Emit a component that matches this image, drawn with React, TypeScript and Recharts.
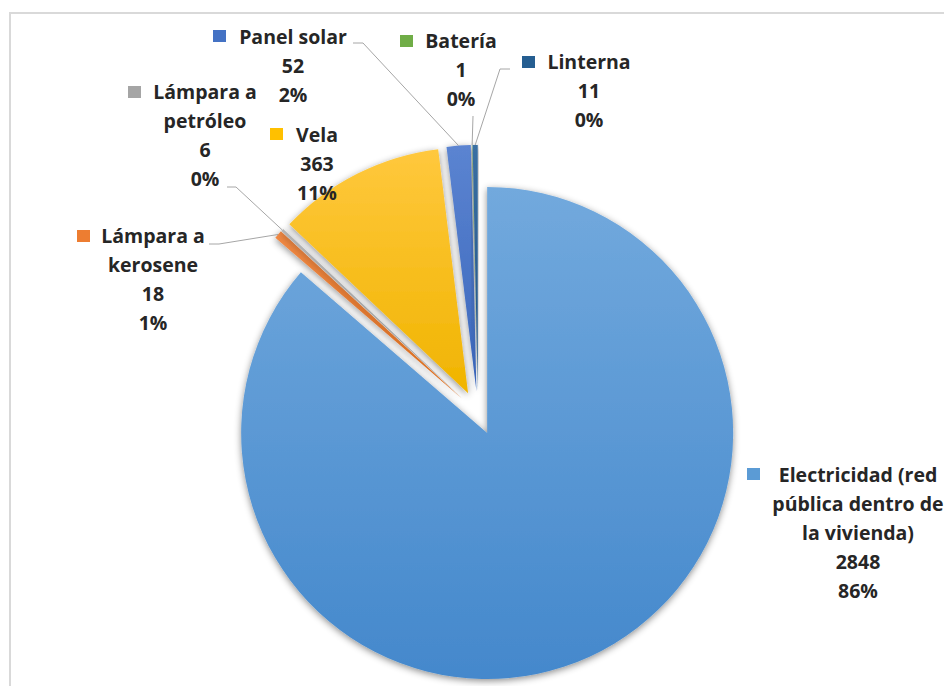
import React from "react";
import { PieChart, Pie, Sector } from "recharts";

// ---- data ----
const categories = [
  "Electricidad (red pública dentro de la vivienda)",
  "Lámpara a kerosene",
  "Lámpara a petróleo",
  "Vela",
  "Panel solar",
  "Batería",
  "Linterna",
];
const values = [2848, 18, 6, 363, 52, 1, 11];

// ---- style ----
const gradTop = ["#72a9dd", "#f28a45", "#b5b5b5", "#ffc83d", "#5b84d1", "#7fbb57", "#3a6fa3"];
const gradBottom = ["#4488cc", "#e0701f", "#959595", "#f0b400", "#3a66bb", "#5f9c3a", "#1f5283"];
const keyColors = ["#5b9bd5", "#ed7d31", "#a5a5a5", "#ffc000", "#4472c4", "#70ad47", "#255e91"];

// label layout (manually placed labels, as in the original)
const labelLayout = [
  { cx: 858, y: 482, sq: [747, 468], wrap: 17, line: null as null | number[][] },
  { cx: 153, y: 243, sq: [77, 230], wrap: 10, line: [[209, 244], [219, 244]] },
  { cx: 205, y: 99, sq: [128, 86], wrap: 10, line: [[227, 187], [236, 187]] },
  { cx: 317, y: 142, sq: [270, 128], wrap: 10, line: null },
  { cx: 293, y: 44, sq: [213, 30], wrap: 12, line: [[353, 43], [363, 43]] },
  { cx: 461, y: 48, sq: [400, 35], wrap: 10, line: [[473, 116], [473, 116]] },
  { cx: 589, y: 69, sq: [522, 56], wrap: 10, line: [[510, 69], [500, 69]] },
];

const data = categories.map((name, i) => ({ name, value: values[i] }));

const RAD = Math.PI / 180;
const EXPLODE = 22;
const LINE_H = 29;

function wrapText(s: string, max: number): string[] {
  const words = s.split(" ");
  const lines: string[] = [];
  let cur = "";
  for (const w of words) {
    const next = cur ? cur + " " + w : w;
    if (next.length > max && cur) {
      lines.push(cur);
      cur = w;
    } else {
      cur = next;
    }
  }
  if (cur) lines.push(cur);
  return lines;
}

const renderSlice = (props: any) => {
  const { cx, cy, outerRadius, startAngle, endAngle, midAngle, index, percent, value, name } = props;
  const dx = EXPLODE * Math.cos(-midAngle * RAD);
  const dy = EXPLODE * Math.sin(-midAngle * RAD);
  const ax = cx + dx;
  const ay = cy + dy;
  const ox = ax + outerRadius * Math.cos(-midAngle * RAD);
  const oy = ay + outerRadius * Math.sin(-midAngle * RAD);
  const lay = labelLayout[index];
  const lines = [...wrapText(String(name), lay.wrap), String(value), `${Math.round(percent * 100)}%`];
  const gid = `grad-${index}`;
  return (
    <g key={`slice-${index}`}>
      <defs>
        <linearGradient id={gid} x1="0" y1="0" x2="0" y2="1">
          <stop offset="0%" stopColor={gradTop[index]} />
          <stop offset="100%" stopColor={gradBottom[index]} />
        </linearGradient>
        {index === 0 && (
          <filter id="pieShadow" x="-20%" y="-20%" width="140%" height="140%">
            <feDropShadow dx="0" dy="2" stdDeviation="3.5" floodColor="#000" floodOpacity="0.45" />
          </filter>
        )}
      </defs>
      <Sector
        cx={ax}
        cy={ay}
        innerRadius={0}
        outerRadius={outerRadius}
        startAngle={startAngle}
        endAngle={endAngle}
        fill={`url(#${gid})`}
        stroke="none"
        filter="url(#pieShadow)"
      />
      {lay.line && (
        <polyline
          points={`${lay.line[0][0]},${lay.line[0][1]} ${lay.line[1][0]},${lay.line[1][1]} ${ox},${oy}`}
          fill="none"
          stroke="#a6a6a6"
          strokeWidth={1}
        />
      )}
      <rect x={lay.sq[0]} y={lay.sq[1]} width={13} height={12} fill={keyColors[index]} />
      {lines.map((t, k) => (
        <text
          key={k}
          x={lay.cx}
          y={lay.y + k * LINE_H}
          textAnchor="middle"
          fill="#262626"
          fontFamily="'Open Sans', Lato, sans-serif"
          fontWeight={700}
          fontSize={19.5}
        >
          {t}
        </text>
      ))}
    </g>
  );
};

export default function App() {
  return (
    <div style={{ position: "absolute", left: 0, top: 0, width: 944, height: 686, background: "#fff", overflow: "hidden" }}>
      <div
        style={{
          position: "absolute",
          left: 9,
          top: 12,
          width: 1000,
          height: 800,
          borderTop: "2px solid #d9d9d9",
          borderLeft: "2px solid #d9d9d9",
        }}
      />
      <div style={{ position: "absolute", left: 0, top: 0 }}>
        <PieChart width={944} height={686} margin={{ top: 0, right: 0, bottom: 0, left: 0 }}>
          <Pie
            data={data}
            dataKey="value"
            nameKey="name"
            cx={478}
            cy={413}
            innerRadius={0}
            outerRadius={246}
            startAngle={90}
            endAngle={-270}
            fill="none"
            stroke="none"
            labelLine={false}
            label={renderSlice}
            isAnimationActive={false}
          />
        </PieChart>
      </div>
    </div>
  );
}
